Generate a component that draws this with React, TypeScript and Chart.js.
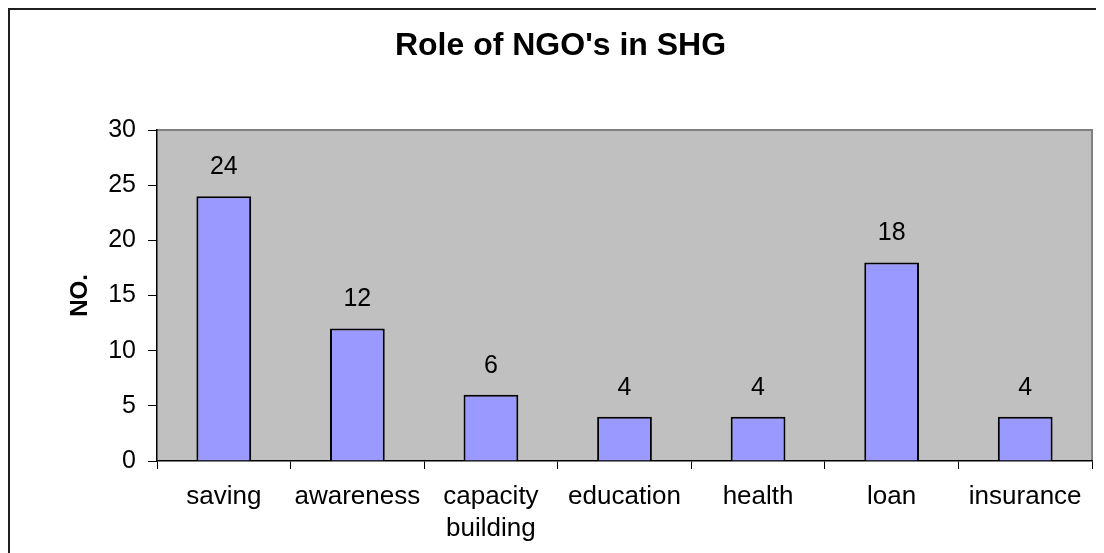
import React, { useEffect, useRef } from "react";
import { Chart, registerables } from "chart.js";

Chart.register(...registerables);

const categories: (string | string[])[] = [
  "saving",
  "awareness",
  ["capacity", "building"],
  "education",
  "health",
  "loan",
  "insurance",
];
const values: number[] = [24, 12, 6, 4, 4, 18, 4];
const titleText = "Role of NGO's in SHG";
const yAxisTitle = "NO.";

const FONT = "Arial, 'Liberation Sans', sans-serif";

const W = 1112;
const H = 545;

export default function App() {
  const ref = useRef<HTMLCanvasElement | null>(null);

  useEffect(() => {
    if (!ref.current) return;
    const bgPlugin = {
      id: "bgPlugin",
      beforeDraw(chart: any) {
        const { ctx, chartArea } = chart;
        ctx.save();
        ctx.fillStyle = "#ffffff";
        ctx.fillRect(0, 0, chart.width, chart.height);
        ctx.fillStyle = "#1e1e1e";
        ctx.fillRect(0, 0, chart.width, 2);
        ctx.fillRect(0, 0, 2, chart.height);
        ctx.fillStyle = "#C0C0C0";
        ctx.fillRect(chartArea.left, chartArea.top, chartArea.right - chartArea.left, chartArea.bottom - chartArea.top);
        ctx.strokeStyle = "#808080";
        ctx.lineWidth = 2;
        ctx.beginPath();
        ctx.moveTo(chartArea.left, chartArea.top);
        ctx.lineTo(chartArea.right, chartArea.top);
        ctx.lineTo(chartArea.right, chartArea.bottom);
        ctx.stroke();
        // chart title
        ctx.fillStyle = "#000";
        ctx.font = `bold 32px ${FONT}`;
        ctx.textAlign = "center";
        ctx.textBaseline = "middle";
        ctx.fillText(titleText, 552.5, 38.5);
        ctx.restore();
      },
      afterDatasetsDraw(chart: any) {
        const { ctx } = chart;
        const meta = chart.getDatasetMeta(0);
        ctx.save();
        ctx.fillStyle = "#000";
        ctx.font = `25px ${FONT}`;
        ctx.textAlign = "center";
        ctx.textBaseline = "middle";
        meta.data.forEach((bar: any, i: number) => {
          ctx.fillText(String(values[i]), bar.x, bar.y - 29);
        });
        ctx.restore();
      },
    };

    const chart = new Chart(ref.current, {
      type: "bar",
      data: {
        labels: categories,
        datasets: [
          {
            data: values,
            backgroundColor: "#9999FF",
            borderColor: "#000000",
            borderWidth: 2,
            barPercentage: 0.41,
            categoryPercentage: 1,
          },
        ],
      },
      options: {
        responsive: false,
        animation: false,
        devicePixelRatio: 1,
        layout: { padding: { left: 0, right: 28, top: 122, bottom: 0 } },
        plugins: {
          legend: { display: false },
          tooltip: { enabled: false },
          title: { display: false },
        },
        scales: {
          x: {
            offset: true,
            grid: {
              display: true,
              offset: true,
              drawOnChartArea: false,
              drawTicks: true,
              tickLength: 8,
              color: "#000",
              lineWidth: 1,
            },
            border: { display: true, color: "#000", width: 1.5 },
            ticks: {
              color: "#000",
              font: { family: FONT, size: 26, lineHeight: 1.23 },
              padding: 12,
              maxRotation: 0,
              autoSkip: false,
            },
            afterFit(scale: any) {
              scale.height = 92;
            },
          },
          y: {
            min: 0,
            max: 30,
            ticks: {
              stepSize: 5,
              color: "#000",
              font: { family: FONT, size: 25 },
              padding: 12,
            },
            grid: {
              display: true,
              drawOnChartArea: false,
              drawTicks: true,
              tickLength: 9,
              color: "#000",
            },
            border: { display: true, color: "#000", width: 1.5 },
            title: {
              display: true,
              text: yAxisTitle,
              color: "#000",
              font: { family: FONT, size: 24, weight: "bold", lineHeight: 1.2 },
              padding: { top: 58, bottom: 0 },
            },
            afterFit(scale: any) {
              scale.width = 149;
            },
          },
        },
      },
      plugins: [bgPlugin],
    });
    return () => chart.destroy();
  }, []);

  return (
    <div style={{ width: 1096, height: 545, overflow: "hidden", position: "relative" }}>
      <canvas
        ref={ref}
        width={W}
        height={H}
        style={{ display: "block", width: W, height: H }}
      />
    </div>
  );
}
